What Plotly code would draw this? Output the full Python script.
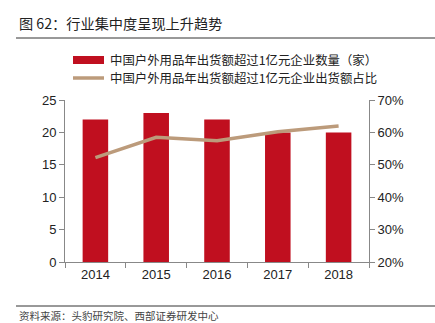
import plotly.graph_objects as go

years = ["2014", "2015", "2016", "2017", "2018"]
company_count = [22, 23, 22, 20, 20]
share_pct = [52.2, 58.5, 57.4, 60.2, 62.0]

title_text = "图 62：行业集中度呈现上升趋势"
bar_name = "中国户外用品年出货额超过1亿元企业数量（家）"
line_name = "中国户外用品年出货额超过1亿元企业出货额占比"
source_text = "资料来源：头豹研究院、西部证券研发中心"

BAR_COLOR = "#C00F1F"
LINE_COLOR = "#BC9B7B"
AXIS_COLOR = "#888888"
CJK = "Noto Sans CJK SC"
LATIN = "Liberation Sans, Arial, sans-serif"

W, H = 435, 323
L, R, T, B = 65, 66, 100, 61


def to_paper_x(px):
    return (px - L) / (W - L - R)


def to_paper_y(py):
    return (H - B - py) / (H - T - B)


fig = go.Figure()
fig.add_trace(go.Bar(x=years, y=company_count, name=bar_name,
                     marker=dict(color=BAR_COLOR, line=dict(width=0)),
                     width=0.42, yaxis="y"))
fig.add_trace(go.Scatter(x=years, y=share_pct, name=line_name, mode="lines",
                         line=dict(color=LINE_COLOR, width=3.5), yaxis="y2"))

shapes = [
    # rule under the title
    dict(type="line", xref="paper", yref="paper", x0=to_paper_x(16), x1=to_paper_x(435),
         y0=to_paper_y(38), y1=to_paper_y(38), line=dict(color="#333333", width=1)),
    # rule above the source line
    dict(type="line", xref="paper", yref="paper", x0=to_paper_x(16), x1=to_paper_x(435),
         y0=to_paper_y(306), y1=to_paper_y(306), line=dict(color="#333333", width=1)),
    # legend swatches
    dict(type="rect", xref="paper", yref="paper",
         x0=to_paper_x(73), x1=to_paper_x(104), y0=to_paper_y(64), y1=to_paper_y(56),
         fillcolor=BAR_COLOR, line=dict(width=0)),
    dict(type="line", xref="paper", yref="paper",
         x0=to_paper_x(73), x1=to_paper_x(104), y0=to_paper_y(78), y1=to_paper_y(78),
         line=dict(color=LINE_COLOR, width=3.5)),
]

annotations = [
    dict(text=title_text, xref="paper", yref="paper", x=to_paper_x(17), y=to_paper_y(23),
         xanchor="left", yanchor="middle", showarrow=False,
         font=dict(family=CJK, size=14.2, color="#222222")),
    dict(text=bar_name, xref="paper", yref="paper", x=to_paper_x(108), y=to_paper_y(60),
         xanchor="left", yanchor="middle", showarrow=False,
         font=dict(family=CJK, size=12.4, color="#222222")),
    dict(text=line_name, xref="paper", yref="paper", x=to_paper_x(108), y=to_paper_y(78),
         xanchor="left", yanchor="middle", showarrow=False,
         font=dict(family=CJK, size=12.4, color="#222222")),
    dict(text=source_text, xref="paper", yref="paper", x=to_paper_x(17), y=to_paper_y(315),
         xanchor="left", yanchor="middle", showarrow=False,
         font=dict(family=CJK, size=10.5, color="#444444")),
]

fig.update_layout(
    width=W, height=H,
    margin=dict(l=L, r=R, t=T, b=B),
    paper_bgcolor="white", plot_bgcolor="white",
    showlegend=False,
    shapes=shapes,
    annotations=annotations,
    xaxis=dict(type="category", showline=True, linecolor=AXIS_COLOR, linewidth=1,
               ticks="outside", tickson="boundaries", ticklen=5, tickcolor=AXIS_COLOR,
               showgrid=False, tickfont=dict(family=LATIN, size=13, color="#222222")),
    yaxis=dict(range=[0, 25], dtick=5, showline=True, linecolor=AXIS_COLOR, linewidth=1,
               ticks="outside", ticklen=5, tickcolor=AXIS_COLOR, showgrid=False, zeroline=False,
               tickfont=dict(family=LATIN, size=13, color="#222222")),
    yaxis2=dict(range=[20, 70], dtick=10, overlaying="y", side="right", showline=True,
                linecolor=AXIS_COLOR, linewidth=1, ticks="outside", ticklen=5,
                tickcolor=AXIS_COLOR, showgrid=False, zeroline=False, ticksuffix="%",
                tickfont=dict(family=LATIN, size=13, color="#222222")),
)

fig.write_html("out.html")
